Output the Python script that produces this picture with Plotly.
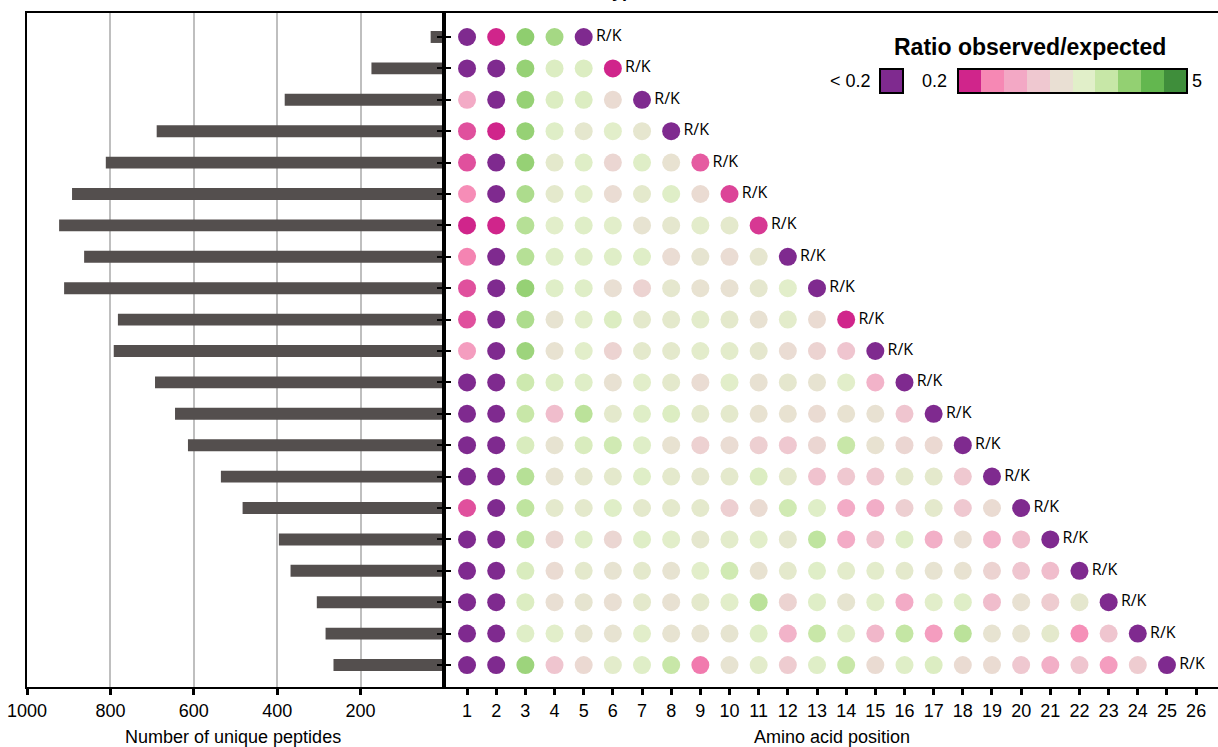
import math
import plotly.graph_objects as go

# ---------------- data ----------------
lengths = list(range(5, 26))
peptide_counts = [32, 174, 382, 689, 811, 892, 923, 863, 911, 782, 792,
                  693, 645, 614, 535, 483, 396, 368, 305, 284, 265]

positions = list(range(1, 27))

# ratio observed/expected per amino acid position, one list per peptide length
ratio_len5 = [0.15, 0.22, 2.3, 2.0, 0.15]
ratio_len6 = [0.15, 0.15, 2.2, 1.25, 1.25, 0.22]
ratio_len7 = [0.46, 0.15, 2.2, 1.25, 1.25, 0.8, 0.15]
ratio_len8 = [0.27, 0.23, 2.2, 1.2, 1.0, 1.15, 0.98, 0.15]
ratio_len9 = [0.27, 0.15, 2.2, 1.05, 1.2, 0.75, 1.2, 0.9, 0.28]
ratio_len10 = [0.34, 0.15, 1.9, 1.05, 1.15, 0.82, 1.05, 1.2, 0.8, 0.26]
ratio_len11 = [0.22, 0.23, 1.8, 1.15, 1.2, 1.15, 0.92, 1.0, 1.1, 1.05, 0.25]
ratio_len12 = [0.32, 0.15, 1.8, 1.2, 1.2, 1.2, 1.2, 0.82, 0.95, 0.82, 0.98, 0.15]
ratio_len13 = [0.27, 0.15, 2.2, 1.2, 1.2, 0.85, 0.72, 1.0, 0.9, 0.88, 1.0, 1.15, 0.15]
ratio_len14 = [0.27, 0.15, 1.9, 0.92, 1.15, 1.25, 1.05, 1.05, 1.1, 1.05, 0.88, 1.1, 0.8, 0.22]
ratio_len15 = [0.40, 0.15, 2.1, 0.9, 1.15, 0.72, 1.05, 1.05, 1.1, 1.1, 1.0, 0.82, 0.72, 0.6, 0.15]
ratio_len16 = [0.15, 0.15, 1.5, 1.25, 1.2, 0.88, 1.15, 1.05, 0.82, 1.15, 0.88, 1.0, 0.92, 1.15, 0.5, 0.15]
ratio_len17 = [0.15, 0.15, 1.6, 0.55, 1.75, 1.05, 1.2, 1.25, 1.05, 1.05, 0.9, 0.9, 0.8, 0.9, 0.88, 0.6, 0.15]
ratio_len18 = [0.15, 0.15, 1.3, 0.92, 1.3, 1.45, 1.2, 0.9, 0.7, 0.82, 0.68, 0.62, 0.75, 1.6, 0.9, 0.75, 0.78, 0.15]
ratio_len19 = [0.15, 0.15, 1.8, 0.92, 1.0, 1.05, 1.2, 1.05, 1.0, 1.05, 1.25, 1.05, 0.58, 0.62, 0.62, 1.05, 1.05, 0.62, 0.15]
ratio_len20 = [0.27, 0.15, 1.7, 1.05, 1.05, 1.2, 1.05, 1.05, 1.05, 0.68, 0.8, 1.45, 1.2, 0.46, 0.47, 0.68, 1.05, 0.62, 0.8, 0.15]
ratio_len21 = [0.15, 0.15, 1.7, 0.75, 1.2, 0.75, 1.2, 1.15, 1.0, 1.1, 1.15, 1.0, 1.7, 0.46, 0.58, 1.2, 0.48, 0.85, 0.48, 0.55, 0.15]
ratio_len22 = [0.15, 0.15, 1.3, 0.8, 1.05, 0.92, 1.05, 0.92, 1.15, 1.45, 0.9, 1.05, 1.2, 1.1, 1.1, 1.05, 0.92, 0.9, 0.72, 0.6, 0.55, 0.15]
ratio_len23 = [0.15, 0.15, 1.25, 0.85, 0.95, 0.85, 1.05, 0.88, 1.05, 1.15, 1.75, 0.72, 1.2, 0.95, 1.15, 0.46, 1.15, 1.2, 0.55, 0.88, 0.65, 1.0, 0.15]
ratio_len24 = [0.15, 0.15, 1.2, 1.15, 0.95, 0.92, 1.15, 0.92, 0.92, 0.95, 1.2, 0.5, 1.6, 1.2, 0.52, 1.65, 0.40, 1.75, 0.92, 0.92, 1.05, 0.35, 0.6, 0.15]
ratio_len25 = [0.15, 0.15, 2.1, 0.6, 0.78, 1.1, 1.2, 1.6, 0.31, 0.92, 1.1, 0.65, 1.2, 1.6, 0.8, 1.2, 1.25, 0.8, 0.8, 0.62, 0.48, 0.6, 0.40, 0.65, 0.15]

ratio_rows = [ratio_len5, ratio_len6, ratio_len7, ratio_len8, ratio_len9, ratio_len10,
              ratio_len11, ratio_len12, ratio_len13, ratio_len14, ratio_len15, ratio_len16,
              ratio_len17, ratio_len18, ratio_len19, ratio_len20, ratio_len21, ratio_len22,
              ratio_len23, ratio_len24, ratio_len25]

legend_low, legend_high = 0.2, 5.0
purple = "#7f2a8f"
bin_colors = ["#d0258b", "#f688b4", "#f3a8c5", "#efc8d0", "#e9dfd3",
              "#e1efc9", "#c7e7a7", "#93d072", "#63b74f", "#3f8e3b"]


def hex_to_rgb(h):
    h = h.lstrip("#")
    return [int(h[i:i + 2], 16) for i in (0, 2, 4)]


def ratio_color(r):
    if r < legend_low:
        return purple
    t = math.log(r / legend_low) / math.log(legend_high / legend_low)
    n = len(bin_colors)
    pos = t * n - 0.5
    pos = max(0.0, min(n - 1.0, pos))
    i = int(math.floor(pos))
    j = min(i + 1, n - 1)
    f = pos - i
    a, b = hex_to_rgb(bin_colors[i]), hex_to_rgb(bin_colors[j])
    c = [round(a[k] + (b[k] - a[k]) * f) for k in range(3)]
    return "rgb(%d,%d,%d)" % tuple(c)


# ---------------- figure ----------------
W, H = 1218, 747
fx = lambda px: px / W
fy = lambda py: 1 - py / H

fig = go.Figure()

fig.add_trace(go.Bar(
    x=peptide_counts, y=lengths, orientation="h", width=0.38,
    marker=dict(color="#544f4e", line=dict(width=0)),
    xaxis="x", yaxis="y", showlegend=False, hoverinfo="x+y"))

inner_x, inner_y, inner_c = [], [], []
end_x, end_y, end_c = [], [], []
for L, row in zip(lengths, ratio_rows):
    for p, r in enumerate(row, start=1):
        if p == L:
            end_x.append(p); end_y.append(L); end_c.append(ratio_color(r))
        else:
            inner_x.append(p); inner_y.append(L); inner_c.append(ratio_color(r))

fig.add_trace(go.Scatter(
    x=inner_x, y=inner_y, mode="markers",
    marker=dict(size=18, color=inner_c, line=dict(width=0)),
    xaxis="x2", yaxis="y2", showlegend=False))

fig.add_trace(go.Scatter(
    x=end_x, y=end_y, mode="markers+text", text=["R/K"] * len(end_x),
    textposition="middle right",
    textfont=dict(family="Open Sans", size=16, color="black"),
    marker=dict(size=18, color=end_c, line=dict(width=0)),
    xaxis="x2", yaxis="y2", showlegend=False))

# legend colour strip
fig.add_trace(go.Heatmap(
    z=[list(range(len(bin_colors)))],
    x=list(range(len(bin_colors))), y=[0],
    zmin=-0.5, zmax=len(bin_colors) - 0.5,
    colorscale=[[v, c] for k, c in enumerate(bin_colors)
                for v in (k / len(bin_colors), (k + 1) / len(bin_colors))],
    showscale=False, xaxis="x3", yaxis="y3", hoverinfo="skip"))

ydom = [fy(687), fy(13)]
yrange = [25.70, 4.236]
tickfont = dict(family="Liberation Sans, Arial", size=18, color="black")

fig.update_layout(
    width=W, height=H,
    margin=dict(l=0, r=0, t=0, b=0, autoexpand=False),
    paper_bgcolor="white", plot_bgcolor="rgba(0,0,0,0)",
    font=dict(family="Liberation Sans, Arial", color="black"),
    xaxis=dict(domain=[fx(27), fx(444)], range=[1000, 0], anchor="y",
               tickvals=[200, 400, 600, 800, 1000], ticks="outside",
               ticklen=6, tickwidth=3, tickcolor="black", automargin=False,
               showline=True, linewidth=2, linecolor="black", mirror=True,
               showgrid=True, gridcolor="#bfbfbf", gridwidth=2,
               zeroline=False, tickfont=tickfont, fixedrange=True),
    yaxis=dict(domain=ydom, range=yrange, anchor="x", side="right",
               tickvals=lengths, ticks="outside", ticklen=5, tickwidth=2,
               tickcolor="black", showticklabels=False, automargin=False,
               showline=True, linewidth=2, linecolor="black", mirror=True,
               showgrid=False, zeroline=False),
    xaxis2=dict(domain=[fx(444), 1.0], range=[0.21, 26.75], anchor="y2",
                tickvals=positions, ticks="outside", ticklen=6, tickwidth=3,
                tickcolor="black", showline=True, linewidth=2,
                linecolor="black", mirror=True, showgrid=False,
                automargin=False, zeroline=False, tickfont=tickfont),
    yaxis2=dict(domain=ydom, range=yrange, anchor="x2", side="left",
                tickvals=lengths, ticks="outside", ticklen=5, tickwidth=2,
                tickcolor="black", showticklabels=False, automargin=False,
                showline=True, linewidth=2, linecolor="black",
                showgrid=False, zeroline=False),
    xaxis3=dict(domain=[fx(958), fx(1187)], range=[-0.5, len(bin_colors) - 0.5],
                anchor="y3", visible=False),
    yaxis3=dict(domain=[fy(93), fy(69)], range=[-0.5, 0.5], anchor="x3",
                visible=False),
)

shapes = [
    dict(type="rect", xref="paper", yref="paper",
         x0=fx(880), x1=fx(903), y0=fy(93), y1=fy(69),
         fillcolor=purple, line=dict(color="black", width=2)),
    dict(type="rect", xref="paper", yref="paper",
         x0=fx(958), x1=fx(1187), y0=fy(93), y1=fy(69),
         fillcolor="rgba(0,0,0,0)", line=dict(color="black", width=2)),
]
fig.update_layout(shapes=shapes)

ann = [
    dict(text="<b>Ratio observed/expected</b>", x=fx(1030), y=fy(47),
         font=dict(size=23)),
    dict(text="&lt; 0.2", x=fx(873), y=fy(81), xanchor="right",
         font=dict(size=18)),
    dict(text="0.2", x=fx(949), y=fy(81), xanchor="right", font=dict(size=18)),
    dict(text="5", x=fx(1190), y=fy(81), xanchor="left", font=dict(size=18)),
    dict(text="Number of unique peptides", x=fx(233), y=fy(737),
         font=dict(size=18)),
    dict(text="Amino acid position", x=fx(832), y=fy(737), font=dict(size=18)),
    dict(text="<b>Trypsin</b>", x=fx(627), y=fy(3.5), yanchor="bottom",
         font=dict(size=18)),
]
for a in ann:
    a.setdefault("xref", "paper")
    a.setdefault("yref", "paper")
    a.setdefault("showarrow", False)
    a.setdefault("xanchor", "center")
    a.setdefault("yanchor", "middle")
    a["font"].setdefault("color", "black")
fig.update_layout(annotations=ann)

fig.write_html("out.html",
               config={"displayModeBar": False},
               post_script="document.body.style.margin='0px';"
                           "document.body.style.overflow='hidden';")
